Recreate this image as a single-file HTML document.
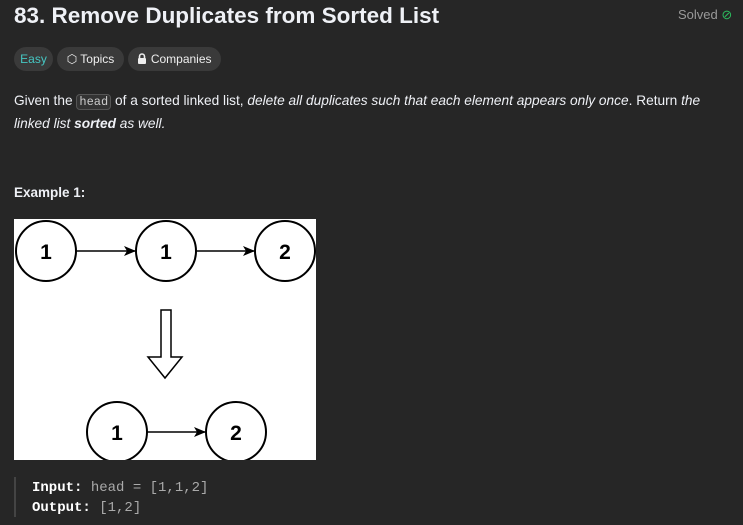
<!DOCTYPE html>
<html><head><meta charset="utf-8"><style>
body{margin:0;width:743px;height:525px;background:#262626;font-family:"Liberation Sans",sans-serif;color:#eff1f6;position:relative;overflow:hidden}
.a{position:absolute;white-space:nowrap}
.badge{position:absolute;top:47px;height:24px;border-radius:12px;background:#3a3a3a;font-size:12px;line-height:24px;text-align:center;color:#eee}
code{font-family:"Liberation Mono",monospace}
</style></head><body>
<div class="a" style="left:14px;top:3px;font-size:22.5px;font-weight:600;">83. Remove Duplicates from Sorted List</div>
<div class="a" style="left:678px;top:7px;font-size:13px;color:#9a9a9a">Solved <span style="color:#2cbb5d">⊘</span></div>
<div class="badge" style="left:14px;width:39px;color:#46c6c2">Easy</div>
<div class="badge" style="left:57px;width:67px">⬡ Topics</div>
<div class="badge" style="left:128px;width:93px"><svg width="10" height="11" viewBox="0 0 10 11" style="vertical-align:-1px"><path d="M2.5,5 V3.5 a2.5,2.5 0 0 1 5,0 V5" fill="none" stroke="#eee" stroke-width="1.6"/><rect x="1" y="5" width="8" height="6" rx="1" fill="#eee"/></svg> Companies</div>
<div class="a" style="left:14px;top:90px;font-size:13.7px;line-height:22px">Given the <code style="border:1px solid #555;background:#333;border-radius:4px;padding:0 2px;font-size:12px;color:#ccc">head</code> of a sorted linked list, <i>delete all duplicates such that each element appears only once</i>. Return <i>the</i><br><i>linked list <b>sorted</b> as well.</i></div>
<div class="a" style="left:14px;top:185px;font-size:13.5px;font-weight:bold">Example 1:</div>
<svg class="a" style="left:14px;top:219px" width="302" height="241" viewBox="14 219 302 241">
<rect x="14" y="219" width="302" height="241" fill="#fff"/>
<defs><marker id="m" markerWidth="12" markerHeight="12" refX="11" refY="6" orient="auto" markerUnits="userSpaceOnUse"><path d="M0,1 L12,6 L0,11 L3,6z" fill="#000"/></marker></defs>
<g fill="#fff" stroke="#000" stroke-width="2">
<circle cx="46" cy="251" r="30"/><circle cx="166" cy="251" r="30"/><circle cx="285" cy="251" r="30"/>
<circle cx="117" cy="432" r="30"/><circle cx="236" cy="432" r="30"/>
<path d="M161,310 H171 V357 H182 L165,378 L148,357 H161 Z" stroke-width="1.5"/>
</g>
<g stroke="#000" stroke-width="1.5" marker-end="url(#m)">
<line x1="76" y1="251" x2="135" y2="251"/><line x1="196" y1="251" x2="254" y2="251"/><line x1="147" y1="432" x2="205" y2="432"/>
</g>
<g font-size="21" font-weight="bold" text-anchor="middle" font-family="Liberation Sans">
<text x="46" y="259">1</text><text x="166" y="259">1</text><text x="285" y="259">2</text><text x="117" y="440">1</text><text x="236" y="440">2</text>
</g>
</svg>
<div class="a" style="left:14px;top:477px;width:2px;height:40px;background:#444"></div>
<div class="a" style="left:32px;top:478px;font-family:'Liberation Mono',monospace;font-size:14px;line-height:20px;color:#aaa"><b style="color:#fff">Input:</b> head = [1,1,2]<br><b style="color:#fff">Output:</b> [1,2]</div>
</body></html>
